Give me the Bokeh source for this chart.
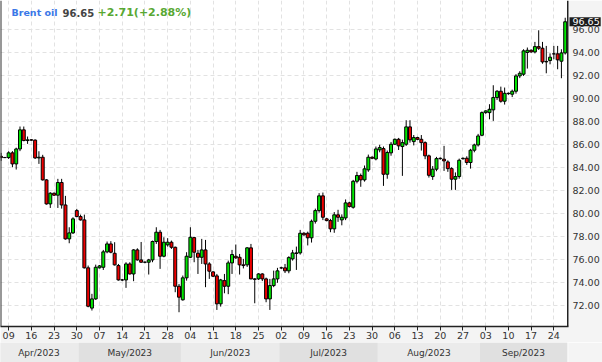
import pandas as pd
from bokeh.plotting import figure
from bokeh.models import (ColumnDataSource, FixedTicker, Range1d, Span, Label,
                          NumeralTickFormatter)
from bokeh.layouts import column
from bokeh.embed import file_html
from bokeh.resources import INLINE
from bokeh.core.properties import value

SYMBOL = "Brent oil"
START = "2023-04-06"
END = "2023-09-27"
# one candle per session, Sunday..Friday
dates = pd.bdate_range(START, END, freq="C", weekmask="Sun Mon Tue Wed Thu Fri")

opens = [84.95, 84.84, 84.84, 85.25, 84.29, 85.59, 87.25, 86.32, 86.38, 86.36,
         84.81, 84.87, 82.90, 80.81, 81.74, 81.57, 82.67, 80.72, 77.77, 78.29,
         80.23, 79.71, 79.42, 75.25, 71.75, 72.55, 75.25, 75.30, 76.64, 77.33,
         76.52, 75.45, 74.20, 74.20, 75.59, 74.72, 76.81, 75.94, 75.74, 75.74,
         75.94, 77.54, 78.35, 76.26, 77.25, 77.48, 77.04, 73.65, 72.47, 74.38,
         76.17, 77.88, 76.52, 76.17, 76.81, 75.59, 74.90, 74.55, 72.12, 74.14,
         73.65, 75.68, 76.26, 76.17, 75.51, 75.51, 76.99, 74.29, 74.29, 74.72,
         74.29, 72.55, 73.71, 74.29, 75.25, 75.25, 74.99, 76.03, 76.55, 76.55,
         78.26, 78.26, 77.86, 79.30, 80.23, 81.51, 79.51, 79.36, 78.64, 79.86,
         79.42, 79.59, 80.90, 80.52, 82.78, 83.28, 82.90, 83.77, 84.87, 84.72,
         85.51, 85.62, 83.39, 85.25, 86.00, 86.43, 85.80, 86.00, 87.51, 86.23,
         86.58, 86.43, 86.14, 84.99, 83.19, 83.83, 84.75, 84.70, 84.46, 83.88,
         82.96, 83.19, 84.75, 84.78, 84.41, 85.48, 85.94, 86.78, 88.75, 88.75,
         88.99, 90.06, 90.61, 89.74, 90.43, 90.35, 90.61, 91.94, 92.09, 93.98,
         94.17, 94.03, 94.49, 94.35, 93.16, 93.28, 93.86, 93.86, 93.22, 93.94]
highs = [85.25, 84.90, 85.39, 85.40, 85.70, 87.54, 87.54, 86.67, 86.45, 86.42,
         85.39, 85.08, 82.96, 81.83, 81.80, 82.99, 82.99, 81.51, 78.78, 79.65,
         80.38, 79.88, 79.88, 75.45, 72.99, 75.53, 75.50, 76.81, 77.54, 77.57,
         77.48, 75.59, 74.29, 75.74, 75.74, 76.87, 76.95, 77.50, 75.80, 76.03,
         77.62, 78.78, 78.55, 77.91, 77.83, 77.62, 77.10, 73.85, 74.58, 76.61,
         78.78, 77.95, 76.81, 77.77, 77.68, 75.74, 74.96, 74.72, 74.29, 74.72,
         75.88, 76.81, 77.28, 76.46, 76.03, 77.05, 77.33, 74.35, 74.78, 74.78,
         74.40, 74.29, 75.01, 75.25, 75.35, 75.59, 76.26, 76.81, 77.10, 78.55,
         78.35, 78.40, 79.45, 80.40, 81.75, 81.80, 79.60, 79.51, 80.10, 80.30,
         79.90, 81.20, 81.00, 82.90, 83.60, 83.45, 84.15, 85.10, 84.95, 85.80,
         85.95, 85.80, 85.45, 86.20, 86.50, 86.55, 86.40, 88.09, 88.09, 86.80,
         86.65, 86.80, 86.25, 85.10, 84.10, 84.90, 84.85, 85.86, 84.60, 84.00,
         83.55, 84.75, 84.85, 84.95, 85.60, 86.05, 86.90, 88.85, 88.95, 89.48,
         91.13, 90.70, 91.01, 90.93, 90.50, 90.75, 92.10, 92.35, 94.26, 94.41,
         94.25, 94.90, 95.91, 94.90, 94.55, 93.90, 94.55, 94.55, 94.26, 97.00]
lows = [84.55, 84.80, 84.72, 84.00, 83.80, 85.40, 86.26, 86.03, 86.30, 84.72,
        84.29, 82.84, 80.75, 80.46, 81.50, 80.46, 80.40, 77.70, 77.39, 78.20,
        79.65, 79.36, 75.20, 71.82, 71.54, 72.46, 75.20, 75.07, 76.52, 76.52,
        75.45, 74.14, 74.10, 73.51, 74.67, 74.09, 75.88, 75.70, 75.65, 74.67,
        75.74, 77.33, 75.16, 76.17, 77.10, 76.90, 73.13, 71.39, 72.40, 74.14,
        76.10, 75.74, 74.72, 75.59, 73.57, 74.29, 74.45, 71.59, 71.88, 73.04,
        72.96, 74.72, 76.03, 74.67, 75.20, 75.33, 74.26, 72.17, 74.20, 74.10,
        72.26, 71.59, 73.57, 73.95, 75.15, 74.80, 74.78, 75.88, 75.07, 76.40,
        78.05, 77.20, 77.45, 79.10, 80.05, 79.40, 79.30, 78.35, 78.30, 79.25,
        78.95, 79.40, 80.50, 80.40, 82.60, 82.30, 82.75, 83.60, 84.70, 84.60,
        85.30, 82.38, 83.00, 85.00, 85.95, 85.50, 83.25, 85.85, 86.14, 85.90,
        86.35, 85.45, 84.70, 83.10, 82.90, 83.65, 84.65, 83.68, 83.60, 82.03,
        82.03, 83.00, 84.65, 84.20, 83.88, 85.30, 85.80, 86.70, 88.65, 88.17,
        88.03, 89.85, 89.62, 89.45, 90.30, 90.10, 90.40, 91.75, 91.94, 92.58,
        93.95, 93.90, 94.20, 93.00, 92.17, 92.95, 93.39, 92.52, 91.74, 93.80]
closes = [84.84, 84.84, 85.25, 84.29, 85.59, 87.25, 86.32, 86.38, 86.36, 84.81,
          84.87, 82.90, 80.81, 81.74, 81.57, 82.67, 80.72, 77.77, 78.29, 79.51,
          79.71, 79.42, 75.25, 71.91, 72.55, 75.30, 75.42, 76.64, 77.33, 76.61,
          75.51, 74.20, 74.20, 75.59, 74.72, 76.81, 75.94, 75.74, 75.74, 75.94,
          77.54, 78.35, 76.26, 77.48, 77.48, 77.04, 73.65, 72.70, 74.38, 76.26,
          77.91, 76.61, 76.17, 76.81, 75.59, 74.96, 74.52, 72.12, 74.20, 73.65,
          75.68, 76.41, 76.12, 75.51, 75.45, 76.99, 74.29, 74.25, 74.72, 74.29,
          72.55, 73.71, 74.29, 74.99, 75.25, 74.99, 76.14, 76.55, 76.50, 78.26,
          78.12, 77.86, 79.30, 80.23, 81.51, 79.65, 79.36, 78.64, 79.86, 79.65,
          79.65, 80.90, 80.58, 82.78, 83.28, 82.90, 83.86, 84.87, 84.78, 85.59,
          85.71, 83.39, 85.28, 86.00, 86.43, 85.86, 86.14, 87.51, 86.38, 86.58,
          86.43, 86.14, 84.99, 83.30, 83.83, 84.75, 84.78, 84.55, 83.88, 82.96,
          83.19, 84.61, 84.78, 84.41, 85.48, 85.94, 86.72, 88.75, 88.90, 89.04,
          90.06, 90.61, 89.74, 90.43, 90.40, 90.61, 91.94, 92.17, 94.12, 94.17,
          94.03, 94.49, 94.35, 93.16, 93.20, 93.57, 93.86, 93.34, 93.94, 96.65]

ytick_values = [72, 74, 76, 78, 80, 82, 84, 86, 88, 90, 92, 94, 96]

UP, DOWN = "#00e800", "#ee0000"
FONT = "DejaVu Sans"
idx = list(range(len(dates)))
src = ColumnDataSource(dict(
    x=idx, o=opens, h=highs, l=lows, c=closes,
    top=[max(a, b) for a, b in zip(opens, closes)],
    bot=[min(a, b) for a, b in zip(opens, closes)],
    col=[UP if c >= o else DOWN for o, c in zip(opens, closes)],
))

FW, FH, RIGHT, BOTTOM, H_MONTH = 568, 326, 34, 16, 20
YMIN, YMAX = 70.15, 98.5
x_range = Range1d(-0.15, len(dates) - 0.13)
p = figure(frame_width=FW, frame_height=FH, x_range=x_range, y_range=Range1d(YMIN, YMAX),
           y_axis_location="right", toolbar_location=None, output_backend="svg",
           min_border_left=0, min_border_right=RIGHT, min_border_top=0,
           min_border_bottom=BOTTOM)
p.background_fill_color = "white"
p.border_fill_color = "#f4f4f4"
p.outline_line_color = None

sundays = [i for i, d in enumerate(dates) if d.dayofweek == 6]
xt = FixedTicker(ticks=sundays)
yt = FixedTicker(ticks=ytick_values)
p.xaxis.ticker = xt
p.xaxis.major_label_overrides = {i: dates[i].strftime("%d") for i in sundays}
p.yaxis.ticker = yt
p.yaxis.formatter = NumeralTickFormatter(format="0.00")
for ax in (p.xaxis[0], p.yaxis[0]):
    ax.axis_line_color = "#222"
    ax.axis_line_width = 1.5
    ax.major_tick_line_color = "#222"
    ax.major_tick_in = 0
    ax.major_tick_out = 4
    ax.minor_tick_line_color = None
    ax.major_label_text_font = FONT
    ax.major_label_text_font_size = "9.5px"
    ax.major_label_text_color = "#333"
    ax.major_label_standoff = 1
p.xgrid.ticker = xt
p.ygrid.ticker = yt
for g in (p.xgrid[0], p.ygrid[0]):
    g.grid_line_color = "#e2e2e2"
    g.grid_line_dash = "4 3"
    g.grid_line_width = 1

p.add_layout(Span(location=x_range.start, dimension="height", line_color="#333", line_width=2))
p.add_layout(Span(location=x_range.end, dimension="height", line_color="#222", line_width=3))

p.segment(x0="x", y0="h", x1="x", y1="l", source=src, line_color="black", line_width=1)
p.vbar(x="x", width=0.78, top="top", bottom="bot", source=src, fill_color="col",
       line_color="black", line_width=1)

last, prev = closes[-1], closes[-2]
chg = last - prev
pct = chg / prev * 100
ty = 97.45
p.add_layout(Label(x=11, y=ty, x_units="screen", text=SYMBOL, text_font=FONT,
                   text_font_style="bold", text_font_size="9.5px", text_color="#3b78e7",
                   text_baseline="middle"))
p.add_layout(Label(x=62, y=ty, x_units="screen", text=f"{last:.2f}", text_font=FONT,
                   text_font_style="bold", text_font_size="10px", text_color="#444444",
                   text_baseline="middle"))
p.add_layout(Label(x=97, y=ty, x_units="screen", text=f"{chg:+.2f}({pct:+.2f}%)",
                   text_font=FONT, text_font_style="bold", text_font_size="11px",
                   text_color="#58a833", text_baseline="middle"))

# last price tag: a side-panel label next to the frame; the y axis sits after it and
# its tick labels are pulled back over the tag's column with a negative standoff
tag_box = Label(x=1, y=last, x_units="screen", text=f"{last:.2f}", text_font=FONT,
                text_font_size="9.5px", text_color="white", text_baseline="middle",
                background_fill_color="#1c1c1c", padding=(3, 1, 1, 1))
p.add_layout(tag_box, "right")
yax = p.yaxis[0]
p.right = [tag_box, yax]
yax.axis_line_color = None
yax.major_tick_line_color = None
yax.major_tick_out = 0
yax.major_label_standoff = -27

# month band row
m = pd.Series(idx, index=dates)
groups = m.groupby([dates.year, dates.month])
mleft, mright, mlabel, mcol = [], [], [], []
for n, ((yy, mm), s) in enumerate(groups):
    mleft.append(s.min() - 0.5)
    mright.append(s.max() + 0.5)
    mlabel.append(pd.Timestamp(year=yy, month=mm, day=1).strftime("%b/%Y"))
    mcol.append("#ebebeb" if n % 2 == 0 else "#e0e0e0")
msrc = ColumnDataSource(dict(l=mleft, r=mright, c=mcol, t=mlabel,
                             xm=[(a + b) / 2 for a, b in zip(mleft, mright)]))
p2 = figure(frame_width=FW, frame_height=H_MONTH, x_range=x_range, y_range=Range1d(0, 1),
            toolbar_location=None, output_backend="svg", min_border_left=0,
            min_border_right=RIGHT, min_border_top=0, min_border_bottom=0)
p2.axis.visible = False
p2.grid.visible = False
p2.outline_line_color = None
p2.background_fill_color = "#f4f4f4"
p2.border_fill_color = "#f4f4f4"
p2.quad(left="l", right="r", bottom=0, top=1, fill_color="c", line_color=None, source=msrc)
p2.text(x="xm", y=0.5, text="t", source=msrc, text_font=value(FONT), text_font_size="9px",
        text_color="#333", text_align="center", text_baseline="middle")

layout = column(p, p2, spacing=0)
open("out.html", "w").write(file_html(layout, INLINE))
